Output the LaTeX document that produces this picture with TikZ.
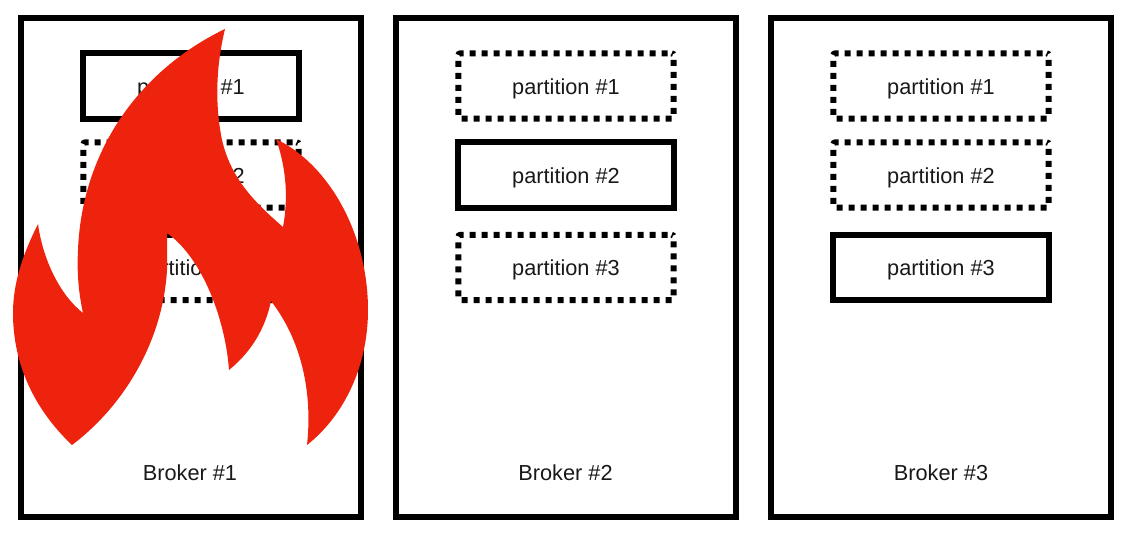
\documentclass[tikz,border=0pt]{standalone}
\usepackage{fontspec}
\setmainfont{Liberation Sans}
\definecolor{flame}{HTML}{EE230E}
\tikzset{
  brokerbox/.style={draw=black,line width=4.5pt,fill=white,minimum width=255pt,minimum height=374.6pt,inner sep=0pt},
  partbase/.style={draw=black,line width=4.5pt,minimum width=161.5pt,minimum height=49pt,inner sep=0pt,text height=12pt,text depth=0pt,font=\fontsize{16.3pt}{19pt}\selectfont,text=black!90},
  leader/.style={partbase},
  follower/.style={partbase,dash pattern=on 4.5pt off 4.5pt,dash phase=6pt,rounded corners=1.5pt},
  brokerlabel/.style={font=\fontsize{16.3pt}{19pt}\selectfont,text=black!90,inner sep=0pt},
  flameshape/.style={fill=flame,draw=none}
}
\begin{document}
\begin{tikzpicture}[x=0.75pt,y=-0.75pt]
\useasboundingbox (0,0) rectangle (1129,539);
\node[brokerbox] (b1) at (190.5,267.5) {};
\node[brokerbox] (b2) at (566,267.5) {};
\node[brokerbox] (b3) at (941,267.5) {};
\node[leader] (p11) at (191,86) {partition \#1};
\node[follower] (p12) at (191,175) {partition \#2};
\node[follower] (p13) at (191,267.5) {partition \#3};
\node[follower] (p21) at (566,86) {partition \#1};
\node[leader] (p22) at (566,175) {partition \#2};
\node[follower] (p23) at (566,267.5) {partition \#3};
\node[follower] (p31) at (941,86) {partition \#1};
\node[follower] (p32) at (941,175) {partition \#2};
\node[leader] (p33) at (941,267.5) {partition \#3};
\node[brokerlabel] (l1) at (190,473) {Broker \#1};
\node[brokerlabel] (l2) at (565.5,473) {Broker \#2};
\node[brokerlabel] (l3) at (941,473) {Broker \#3};
\path[flameshape]
 (225,29)
 .. controls (217,62) and (214,100) .. (222,140)
 .. controls (231,178) and (253,201) .. (283,227)
 .. controls (288,200) and (287,170) .. (276,139)
 .. controls (330,165) and (368,235) .. (368,310)
 .. controls (368,365) and (345,415) .. (307,445)
 .. controls (312,400) and (305,345) .. (271,301)
 .. controls (265,330) and (250,353) .. (229,370)
 .. controls (226,325) and (205,260) .. (167,233)
 -- (167,270)
 .. controls (163,340) and (125,405) .. (72,445)
 .. controls (35,410) and (13,365) .. (13,313)
 .. controls (13,280) and (25,250) .. (38,224)
 .. controls (43,260) and (60,295) .. (83,313)
 .. controls (78,290) and (77,270) .. (78,250)
 .. controls (82,150) and (140,70) .. (225,29)
 -- cycle;
\end{tikzpicture}
\end{document}
